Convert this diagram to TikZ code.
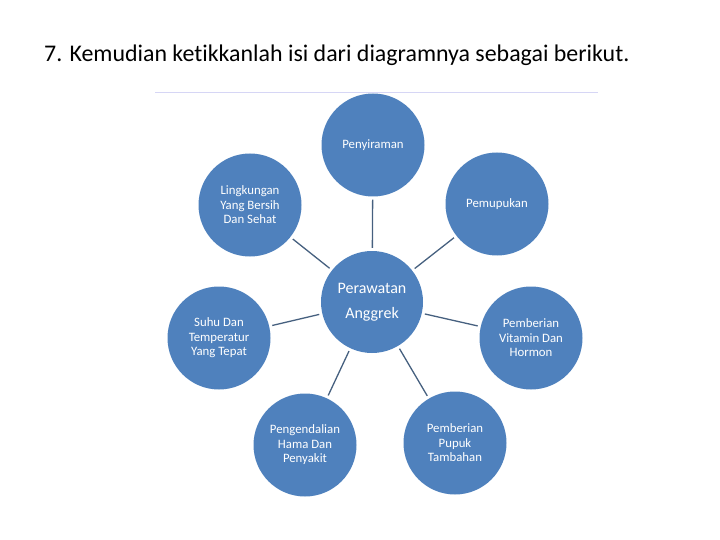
\documentclass[tikz,border=0pt]{standalone}
\usepackage{fontspec}
\setmainfont[Ligatures=NoCommon]{Carlito}
\begin{document}
\begin{tikzpicture}[x=1pt,y=-1pt,
  bubble/.style={circle,fill=blubg,minimum size=103pt,inner sep=0pt,text=white,align=center,font=\fontsize{12.8}{14.5}\selectfont},
  link/.style={draw=linkc,line width=1.3pt,shorten <=3pt,shorten >=3pt}]
\definecolor{blubg}{HTML}{4F81BD}
\definecolor{linkc}{HTML}{46607F}
\useasboundingbox (0,0) rectangle (720,540);
\node[anchor=base west,inner sep=0pt,font=\fontsize{23.9}{28}\selectfont] (title) at (44,62) {7. Kemudian ketikkanlah isi dari diagramnya sebagai berikut.};
\draw[draw=gray!40!blue!20,line width=1pt] (155,93) -- (598,93);
\node[bubble,minimum size=102pt,font=\fontsize{16}{25}\selectfont] (c) at (372,302) {Perawatan\\Anggrek};
\node[bubble] (a) at (373,145) {Penyiraman};
\node[bubble] (b) at (497,204) {Pemupukan};
\node[bubble] (l) at (250,205) {Lingkungan\\Yang Bersih\\Dan Sehat};
\node[bubble] (s) at (219,338) {Suhu Dan\\Temperatur\\Yang Tepat};
\node[bubble] (v) at (531,338) {Pemberian\\Vitamin Dan\\Hormon};
\node[bubble] (h) at (305,445) {Pengendalian\\Hama Dan\\Penyakit};
\node[bubble] (p) at (455,443) {Pemberian\\Pupuk\\Tambahan};
\foreach \n in {a,b,l,s,v,h,p} \draw[link] (c) -- (\n);
\end{tikzpicture}
\end{document}
